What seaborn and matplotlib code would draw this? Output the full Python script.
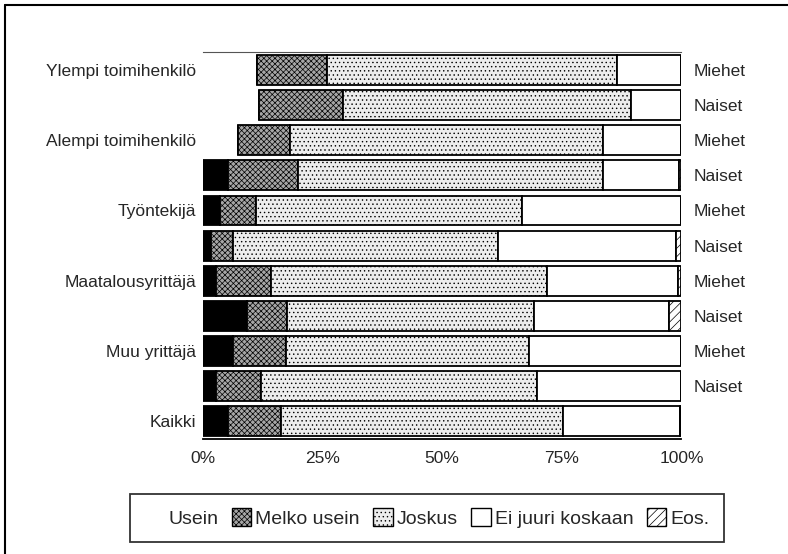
import numpy as np
import pandas as pd
import seaborn as sns
import matplotlib.pyplot as plt
from matplotlib.patches import Patch
from matplotlib.lines import Line2D

# rows top -> bottom (Miehet / Naiset pairs, then Kaikki)
rows = ['Ylempi M', 'Ylempi N', 'Alempi M', 'Alempi N', 'Tyontekija M', 'Tyontekija N',
        'Maatalous M', 'Maatalous N', 'Muu M', 'Muu N', 'Kaikki']
left_labels = ['Ylempi toimihenkilö', '', 'Alempi toimihenkilö', '', 'Työntekijä', '',
               'Maatalousyrittäjä', '', 'Muu yrittäjä', '', 'Kaikki']
right_labels = ['Miehet', 'Naiset'] * 5

# blank space before the bars (as printed)
gap = [11.2, 11.7, 7.3, 0, 0, 0, 0, 0, 0, 0, 0]
usein = [0, 0, 0, 5.2, 3.6, 1.7, 2.7, 9.2, 6.3, 2.7, 5.2]
melko_usein = [14.7, 17.6, 10.9, 14.6, 7.5, 4.6, 11.5, 8.4, 11.1, 9.4, 11.1]
joskus = [60.6, 60.2, 65.4, 63.7, 55.6, 55.4, 57.7, 51.6, 50.8, 57.7, 58.9]
ei_juuri = [13.5, 10.5, 16.4, 15.9, 33.3, 37.2, 27.3, 28.2, 31.8, 30.2, 24.4]
eos = [0, 0, 0, 0.6, 0, 1.1, 0.8, 2.6, 0, 0, 0.4]

segments = [
    ('Usein', usein, dict(color='black')),
    ('Melko usein', melko_usein, dict(color='#a6a6a6', hatch='xxxxxx')),
    ('Joskus', joskus, dict(color='#ededed', hatch='....')),
    ('Ei juuri koskaan', ei_juuri, dict(color='white')),
    ('Eos.', eos, dict(color='white', hatch='////')),
]

sns.set_style('white')
plt.rcParams['font.family'] = ['Liberation Sans', 'DejaVu Sans']
plt.rcParams['hatch.linewidth'] = 0.5

fig = plt.figure(figsize=(7.88, 5.54), dpi=100)
ax = fig.add_axes([0.2576, 0.2076, 0.6072, 0.698])

start = np.array(gap, dtype=float)
for name, vals, style in segments:
    df = pd.DataFrame({'row': rows, 'value': vals})
    sns.barplot(data=df, x='value', y='row', order=rows, orient='h', errorbar=None,
                width=0.85, saturation=1, edgecolor='black', linewidth=1.3,
                left=start.copy(), ax=ax, **style)
    start = start + np.array(vals)

ax.set_xlim(0, 100)
ax.set_ylim(10.5, -0.5)
ax.set_xticks([0, 25, 50, 75, 100])
ax.set_xticklabels(['0%', '25%', '50%', '75%', '100%'], fontsize=12.5)
ax.set_yticks(range(len(rows)))
ax.set_yticklabels(left_labels, fontsize=12.5)
ax.set_xlabel('')
ax.set_ylabel('')
ax.tick_params(axis='both', length=0)
ax.tick_params(axis='x', pad=9)
ax.tick_params(axis='y', pad=5)
for side in ['left', 'right']:
    ax.spines[side].set_visible(False)
ax.spines['bottom'].set_color('black')
ax.spines['bottom'].set_linewidth(1.3)
ax.spines['top'].set_color('#555555')
ax.spines['top'].set_linewidth(0.8)

ax2 = ax.twinx()
ax2.set_ylim(10.5, -0.5)
ax2.set_yticks(range(len(right_labels)))
ax2.set_yticklabels(right_labels, fontsize=12.5)
ax2.tick_params(axis='y', length=0, pad=9)
for s in ax2.spines.values():
    s.set_visible(False)

handles = [Patch(facecolor='none', edgecolor='none')]
for name, vals, style in segments[1:]:
    handles.append(Patch(facecolor=style['color'], edgecolor='black',
                         hatch=style.get('hatch'), linewidth=1))
leg = fig.legend(handles, [s[0] for s in segments], loc='center', ncol=5,
                 bbox_to_anchor=(0.542, 0.065), fontsize=14, frameon=True,
                 fancybox=False, edgecolor='black', handlelength=1.0, handleheight=1.0,
                 handletextpad=0.2, columnspacing=0.7, borderpad=0.75)
leg.get_frame().set_linewidth(1.3)

# scanned page frame
fig.add_artist(Line2D([0.0063, 1.0], [0.991, 0.991], color='black', lw=1.5,
                      transform=fig.transFigure))
fig.add_artist(Line2D([0.0063, 0.0063], [0.0, 0.991], color='black', lw=1.5,
                      transform=fig.transFigure))

fig.savefig('out.png', dpi=100)
